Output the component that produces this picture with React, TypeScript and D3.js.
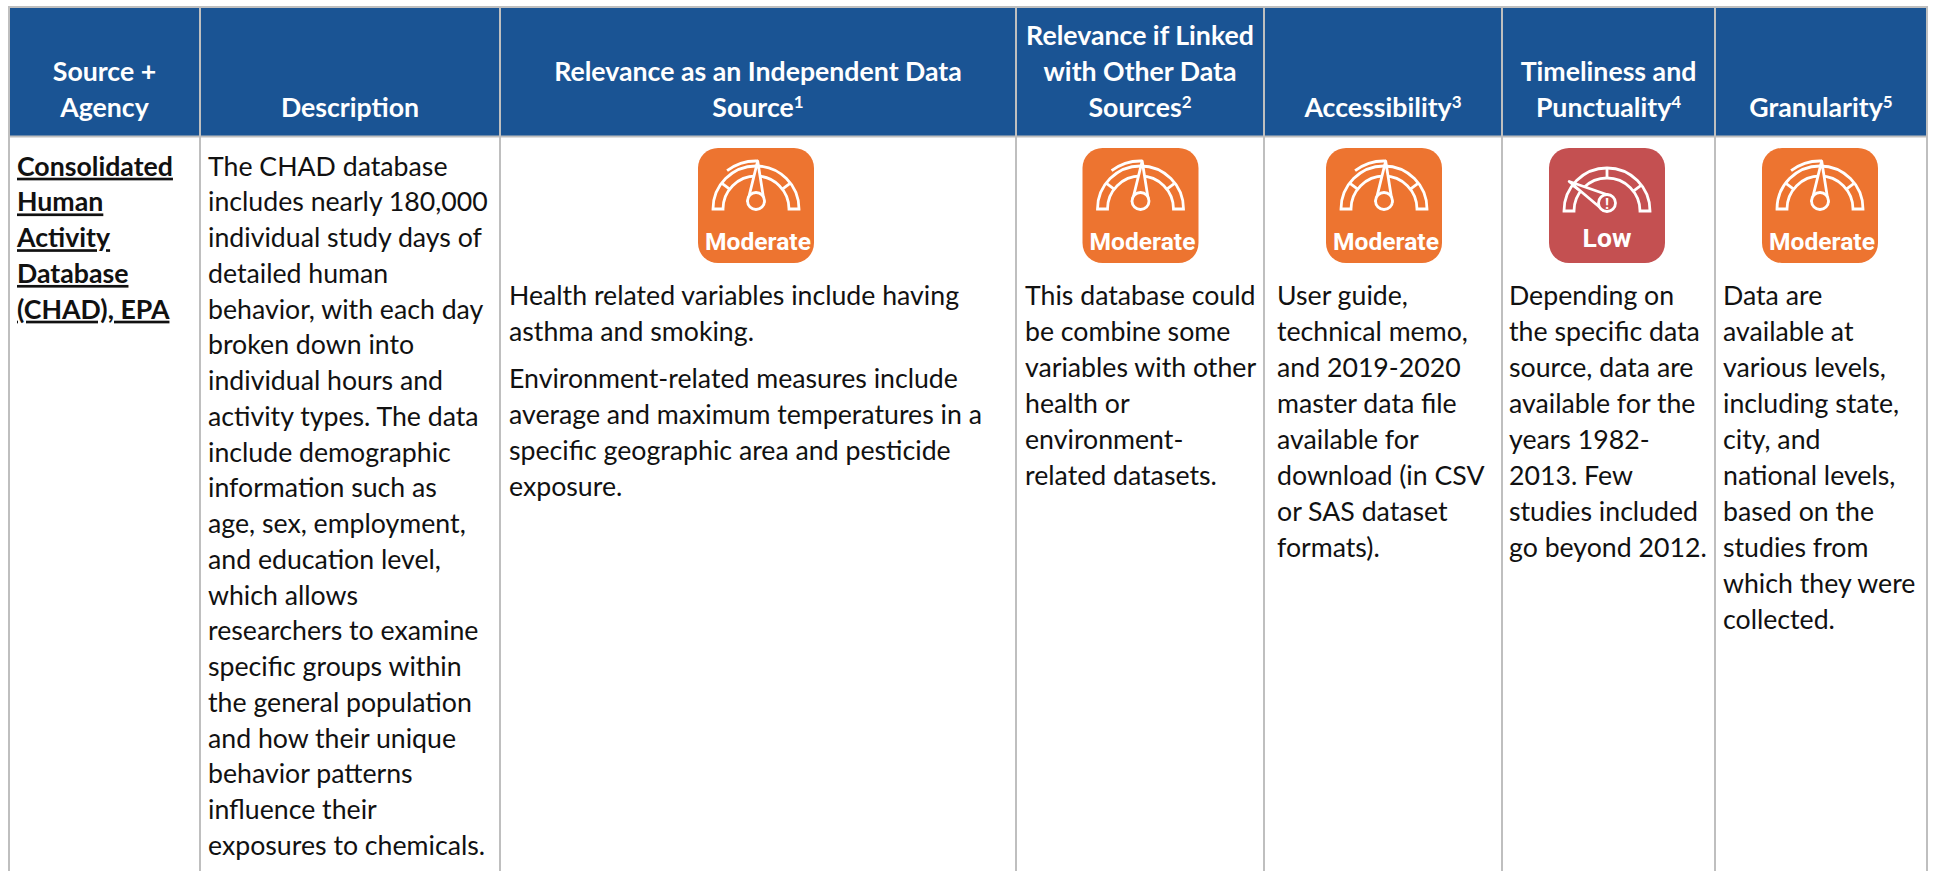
import React from "react";
import * as d3 from "d3";

// column edges
const colEdges = [9, 200, 500, 1016, 1264, 1502, 1715, 1927];

const headers: { lines: string[]; sup?: string }[] = [
  { lines: ["Source +", "Agency"] },
  { lines: ["Description"] },
  { lines: ["Relevance as an Independent Data", "Source"], sup: "1" },
  { lines: ["Relevance if Linked", "with Other Data", "Sources"], sup: "2" },
  { lines: ["Accessibility"], sup: "3" },
  { lines: ["Timeliness and", "Punctuality"], sup: "4" },
  { lines: ["Granularity"], sup: "5" },
];

const sourceLines = ["Consolidated", "Human", "Activity", "Database", "(CHAD), EPA"];

const descriptionLines = [
  "The CHAD database",
  "includes nearly 180,000",
  "individual study days of",
  "detailed human",
  "behavior, with each day",
  "broken down into",
  "individual hours and",
  "activity types. The data",
  "include demographic",
  "information such as",
  "age, sex, employment,",
  "and education level,",
  "which allows",
  "researchers to examine",
  "specific groups within",
  "the general population",
  "and how their unique",
  "behavior patterns",
  "influence their",
  "exposures to chemicals.",
];

const independentParas = [
  ["Health related variables include having", "asthma and smoking."],
  [
    "Environment-related measures include",
    "average and maximum temperatures in a",
    "specific geographic area and pesticide",
    "exposure.",
  ],
];
const linkedParas = [
  ["This database could", "be combine some", "variables with other", "health or", "environment-", "related datasets."],
];
const accessParas = [
  ["User guide,", "technical memo,", "and 2019-2020", "master data file", "available for", "download (in CSV", "or SAS dataset", "formats)."],
];
const timelyParas = [
  ["Depending on", "the specific data", "source, data are", "available for the", "years 1982-", "2013. Few", "studies included", "go beyond 2012."],
];
const granularParas = [
  ["Data are", "available at", "various levels,", "including state,", "city, and", "national levels,", "based on the", "studies from", "which they were", "collected."],
];

const ratingCols = [
  { rating: "Moderate", paras: independentParas, cx: 756, textX: 509 },
  { rating: "Moderate", paras: linkedParas, cx: 1140.5, textX: 1025 },
  { rating: "Moderate", paras: accessParas, cx: 1384, textX: 1277 },
  { rating: "Low", paras: timelyParas, cx: 1607, textX: 1509 },
  { rating: "Moderate", paras: granularParas, cx: 1820, textX: 1723 },
];

const gaugeDividers = [-53, 0, 53];

const BLUE = "#1A5494";
const GRID = "#BFBFBF";
const INK = "#111111";
const FONT = "Lato, sans-serif";
const BODY_SIZE = 26.7;

const lineY = d3.scaleLinear().domain([0, 1]).range([175.7, 211.45]);
const paraY = d3.scaleLinear().domain([0, 1]).range([305, 341]);
const headerY = d3.scaleLinear().domain([0, 2]).range([116.7, 45]);
const rad = d3.scaleLinear().domain([0, 180]).range([0, Math.PI]);

function Line({ x, y, children, ...rest }: any) {
  return (
    <text x={x} y={y} fontFamily={FONT} fontSize={BODY_SIZE} fill={INK} {...rest}>
      {children}
    </text>
  );
}

function Badge({ cx, rating }: { cx: number; rating: string }) {
  const low = rating === "Low";
  const fill = low ? "#C45051" : "#ED7430";
  const centerY = low ? 211 : 209;
  const tipAngle = low ? -52 : 2;
  const hubY = centerY - 8;
  const band = d3.arc();
  const tip = [
    cx + 48 * Math.sin(rad(tipAngle)),
    centerY - 48 * Math.cos(rad(tipAngle)),
  ];
  const a = Math.atan2(tip[1] - hubY, tip[0] - cx);
  const r = 8.5;
  const side = (s: number) => [cx + r * Math.cos(a + s * 1.75), hubY + r * Math.sin(a + s * 1.75)];
  const needle = d3.line()([side(-1), tip as [number, number], side(1)] as [number, number][]);
  const raised = low
    ? null
    : band({ innerRadius: 48, outerRadius: 48, startAngle: rad(-37), endAngle: rad(2) });
  return (
    <g>
      <rect x={cx - 58} y={148} width={116} height={115} rx={20} fill={fill} />
      <g fill="none" stroke="#fff" strokeWidth={2.8} transform={`translate(${cx},${centerY})`}>
        <path d={band({ innerRadius: 33, outerRadius: 43, startAngle: rad(-90), endAngle: rad(90) }) as string} />
        {raised && <path d={raised as string} />}
      </g>
      <g stroke="#fff" strokeWidth={2.8}>
        {gaugeDividers
          .filter((d) => (low ? true : d !== 0))
          .map((d) => (
            <line
              key={d}
              x1={cx + 33 * Math.sin(rad(d))}
              y1={centerY - 33 * Math.cos(rad(d))}
              x2={cx + 43 * Math.sin(rad(d))}
              y2={centerY - 43 * Math.cos(rad(d))}
            />
          ))}
      </g>
      <path d={needle as string} fill={fill} stroke="#fff" strokeWidth={2.8} strokeLinejoin="round" />
      <circle cx={cx} cy={hubY} r={r} fill={fill} stroke="#fff" strokeWidth={2.8} />
      {low && (
        <text x={cx} y={hubY + 6} textAnchor="middle" fontFamily="Roboto, sans-serif" fontWeight={700} fontSize={15} fill="#fff">
          !
        </text>
      )}
      <text
        x={low ? cx : cx + 2}
        y={low ? 247 : 250}
        textAnchor="middle"
        fontFamily="Roboto, sans-serif"
        fontWeight={700}
        fontSize={low ? 26.5 : 24.6}
        fill="#fff"
      >
        {rating}
      </text>
    </g>
  );
}

export default function App() {
  return (
    <svg
      width={1933}
      height={871}
      style={{ position: "absolute", left: 0, top: 0, background: "#fff" }}
    >
      <rect x={colEdges[0]} y={7} width={colEdges[7] - colEdges[0]} height={129} fill={BLUE} />
      {/* grid */}
      <g stroke={GRID} strokeWidth={2}>
        <line x1={colEdges[0] - 1} x2={colEdges[7] + 1} y1={7} y2={7} />
        <line x1={colEdges[0] - 1} x2={colEdges[7] + 1} y1={136.5} y2={136.5} />
        {colEdges.map((x) => (
          <line key={x} x1={x} x2={x} y1={6} y2={871} />
        ))}
      </g>
      {/* header */}
      {headers.map((h, i) => {
        const cx = (colEdges[i] + colEdges[i + 1]) / 2;
        return h.lines.map((l, j) => {
          const last = j === h.lines.length - 1;
          return (
            <Line
              key={l}
              x={cx}
              y={headerY(h.lines.length - 1 - j)}
              textAnchor="middle"
              fontWeight={700}
              fill="#fff"
            >
              {l}
              {last && h.sup && (
                <tspan fontSize={17} dy={-9}>
                  {h.sup}
                </tspan>
              )}
            </Line>
          );
        });
      })}
      {/* first two columns */}
      {sourceLines.map((l, i) => (
        <Line key={l} x={17} y={lineY(i)} fontWeight={700} textDecoration="underline">
          {l}
        </Line>
      ))}
      {descriptionLines.map((l, i) => (
        <Line key={l} x={208} y={lineY(i)}>
          {l}
        </Line>
      ))}
      {/* rating columns */}
      {ratingCols.map((c) => {
        let n = 0;
        return (
          <g key={c.cx}>
            <Badge cx={c.cx} rating={c.rating} />
            {c.paras.map((p, pi) =>
              p.map((l) => {
                const y = paraY(n) + pi * 11;
                n += 1;
                return (
                  <Line key={l} x={c.textX} y={y}>
                    {l}
                  </Line>
                );
              })
            )}
          </g>
        );
      })}
    </svg>
  );
}
